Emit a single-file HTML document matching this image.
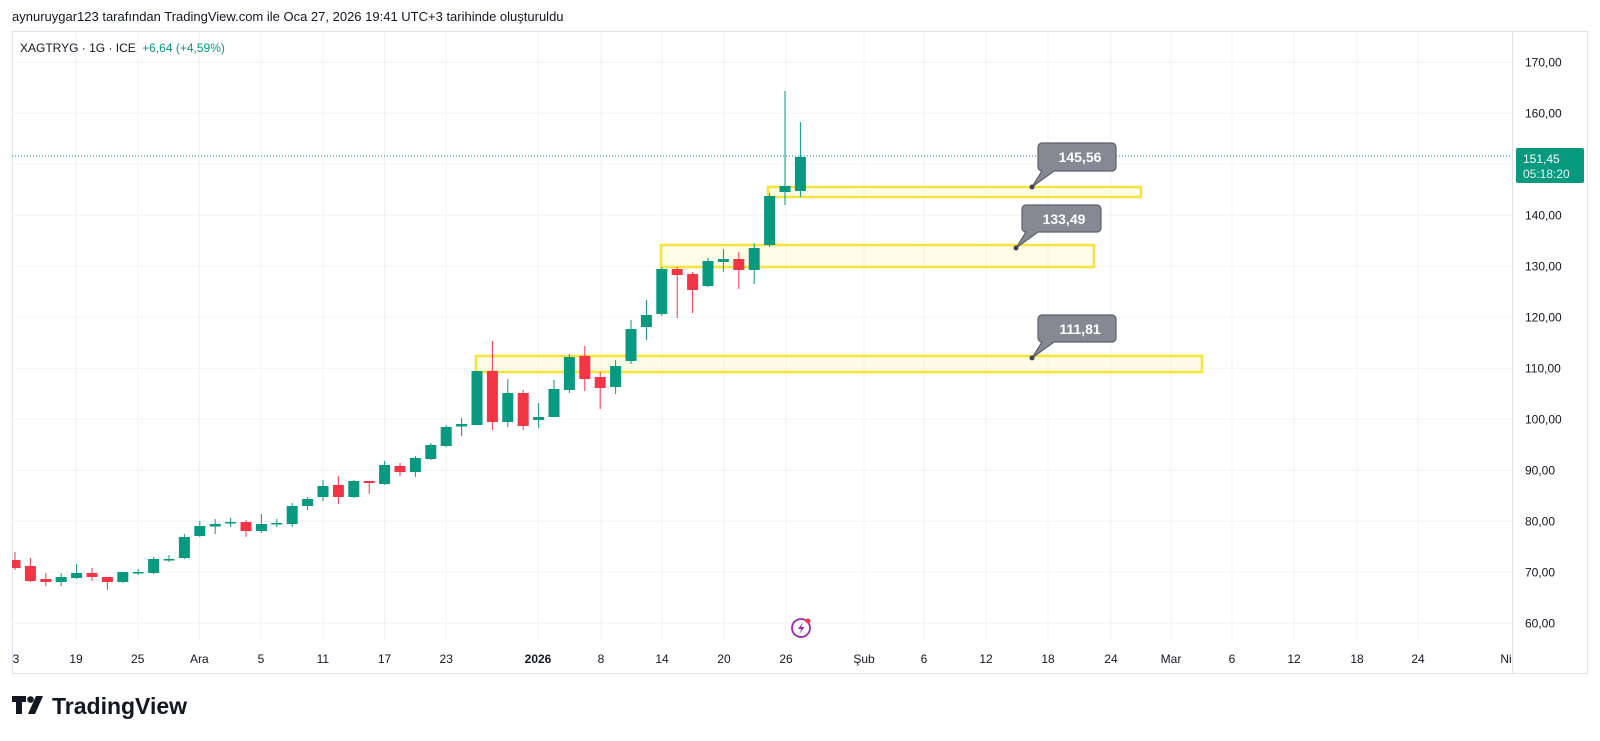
<!DOCTYPE html>
<html><head><meta charset="utf-8"><style>
body{margin:0;background:#fff;width:1600px;height:741px;overflow:hidden;font-family:"Liberation Sans",sans-serif}
svg{position:absolute;left:0;top:0}
</style></head><body>
<svg width="1600" height="741" viewBox="0 0 1600 741" font-family="Liberation Sans, sans-serif">
<text x="12" y="21" font-size="13" fill="#131722">aynuruygar123 tarafından TradingView.com ile Oca 27, 2026 19:41 UTC+3 tarihinde oluşturuldu</text>
<rect x="12.5" y="31.5" width="1575" height="642" fill="#fff" stroke="#e0e3eb"/>
<line x1="1512.5" y1="31" x2="1512.5" y2="674" stroke="#e0e3eb"/>
<g stroke="#f2f3f6" stroke-width="1">
<line x1="12" x2="1512" y1="62.3" y2="62.3"/><line x1="12" x2="1512" y1="113.3" y2="113.3"/><line x1="12" x2="1512" y1="164.3" y2="164.3"/><line x1="12" x2="1512" y1="215.3" y2="215.3"/><line x1="12" x2="1512" y1="266.3" y2="266.3"/><line x1="12" x2="1512" y1="317.3" y2="317.3"/><line x1="12" x2="1512" y1="368.3" y2="368.3"/><line x1="12" x2="1512" y1="419.3" y2="419.3"/><line x1="12" x2="1512" y1="470.3" y2="470.3"/><line x1="12" x2="1512" y1="521.3" y2="521.3"/><line x1="12" x2="1512" y1="572.3" y2="572.3"/><line x1="12" x2="1512" y1="623.3" y2="623.3"/>
<line y1="32" y2="640" x1="76" x2="76"/><line y1="32" y2="640" x1="137.7" x2="137.7"/><line y1="32" y2="640" x1="199.4" x2="199.4"/><line y1="32" y2="640" x1="261" x2="261"/><line y1="32" y2="640" x1="322.8" x2="322.8"/><line y1="32" y2="640" x1="384.5" x2="384.5"/><line y1="32" y2="640" x1="446.2" x2="446.2"/><line y1="32" y2="640" x1="538" x2="538"/><line y1="32" y2="640" x1="601" x2="601"/><line y1="32" y2="640" x1="662" x2="662"/><line y1="32" y2="640" x1="724" x2="724"/><line y1="32" y2="640" x1="786" x2="786"/><line y1="32" y2="640" x1="864" x2="864"/><line y1="32" y2="640" x1="924" x2="924"/><line y1="32" y2="640" x1="986" x2="986"/><line y1="32" y2="640" x1="1048" x2="1048"/><line y1="32" y2="640" x1="1111" x2="1111"/><line y1="32" y2="640" x1="1171" x2="1171"/><line y1="32" y2="640" x1="1232" x2="1232"/><line y1="32" y2="640" x1="1294" x2="1294"/><line y1="32" y2="640" x1="1357" x2="1357"/><line y1="32" y2="640" x1="1418" x2="1418"/>
</g>
<g font-size="12" fill="#131722">
<text x="1525" y="66.5">170,00</text><text x="1525" y="117.5">160,00</text><text x="1525" y="219.5">140,00</text><text x="1525" y="270.5">130,00</text><text x="1525" y="321.5">120,00</text><text x="1525" y="372.5">110,00</text><text x="1525" y="423.5">100,00</text><text x="1525" y="474.5">90,00</text><text x="1525" y="525.5">80,00</text><text x="1525" y="576.5">70,00</text><text x="1525" y="627.5">60,00</text>
</g>
<g font-size="12" fill="#131722" text-anchor="middle">
<text x="16" y="663">3</text><text x="76" y="663">19</text><text x="137.7" y="663">25</text><text x="199.4" y="663">Ara</text><text x="261" y="663">5</text><text x="322.8" y="663">11</text><text x="384.5" y="663">17</text><text x="446.2" y="663">23</text><text x="538" y="663" font-weight="bold">2026</text><text x="601" y="663">8</text><text x="662" y="663">14</text><text x="724" y="663">20</text><text x="786" y="663">26</text><text x="864" y="663">Şub</text><text x="924" y="663">6</text><text x="986" y="663">12</text><text x="1048" y="663">18</text><text x="1111" y="663">24</text><text x="1171" y="663">Mar</text><text x="1232" y="663">6</text><text x="1294" y="663">12</text><text x="1357" y="663">18</text><text x="1418" y="663">24</text><text x="1506" y="663">Ni</text>
</g>
<g fill="rgba(255,235,59,0.12)" stroke="#f7e43a" stroke-width="2.5">
<rect x="476" y="356" width="726" height="16"/>
<rect x="661" y="245" width="433" height="22"/>
<rect x="768" y="187" width="373" height="10"/>
</g>
<line x1="12" x2="1512" y1="156" y2="156" stroke="#089981" stroke-width="1" stroke-dasharray="1,2"/>
<svg x="12" y="31" width="1500" height="610" viewBox="12 31 1500 610" overflow="hidden">
<g fill="#f23645" stroke="#f23645" stroke-width="1">
<line x1="15" x2="15" y1="552" y2="570"/><rect x="9.5" y="560" width="11" height="8" stroke="none"/>
<line x1="30.4" x2="30.4" y1="558" y2="582"/><rect x="24.9" y="566" width="11" height="15" stroke="none"/>
<line x1="45.8" x2="45.8" y1="573" y2="586"/><rect x="40.3" y="579" width="11" height="3" stroke="none"/>
<line x1="92" x2="92" y1="568" y2="581"/><rect x="86.5" y="573" width="11" height="4" stroke="none"/>
<line x1="107.4" x2="107.4" y1="577" y2="590"/><rect x="101.9" y="577" width="11" height="5" stroke="none"/>
<line x1="246" x2="246" y1="520" y2="537"/><rect x="240.5" y="522" width="11" height="9" stroke="none"/>
<line x1="338.4" x2="338.4" y1="476" y2="504"/><rect x="332.9" y="485" width="11" height="12" stroke="none"/>
<line x1="369.2" x2="369.2" y1="481" y2="494"/><rect x="363.7" y="481" width="11" height="2" stroke="none"/>
<line x1="400" x2="400" y1="463" y2="476"/><rect x="394.5" y="466" width="11" height="6" stroke="none"/>
<line x1="492.4" x2="492.4" y1="341" y2="430"/><rect x="486.9" y="371" width="11" height="51" stroke="none"/>
<line x1="523.2" x2="523.2" y1="390" y2="430"/><rect x="517.7" y="393" width="11" height="33" stroke="none"/>
<line x1="584.8" x2="584.8" y1="346" y2="391"/><rect x="579.3" y="356" width="11" height="23" stroke="none"/>
<line x1="600.2" x2="600.2" y1="372" y2="409"/><rect x="594.7" y="377" width="11" height="11" stroke="none"/>
<line x1="677.2" x2="677.2" y1="267" y2="318"/><rect x="671.7" y="269" width="11" height="6" stroke="none"/>
<line x1="692.6" x2="692.6" y1="272" y2="313"/><rect x="687.1" y="274" width="11" height="16" stroke="none"/>
<line x1="738.8" x2="738.8" y1="252" y2="289"/><rect x="733.3" y="259" width="11" height="11" stroke="none"/>
</g>
<g fill="#089981" stroke="#089981" stroke-width="1">
<line x1="61.2" x2="61.2" y1="573" y2="586"/><rect x="55.7" y="577" width="11" height="5" stroke="none"/>
<line x1="76.6" x2="76.6" y1="564" y2="579"/><rect x="71.1" y="573" width="11" height="5" stroke="none"/>
<line x1="122.8" x2="122.8" y1="572" y2="583"/><rect x="117.3" y="572" width="11" height="10" stroke="none"/>
<line x1="138.2" x2="138.2" y1="569" y2="575"/><rect x="132.7" y="572" width="11" height="1.5" stroke="none"/>
<line x1="153.6" x2="153.6" y1="557" y2="574"/><rect x="148.1" y="559" width="11" height="14" stroke="none"/>
<line x1="169" x2="169" y1="555" y2="562"/><rect x="163.5" y="559" width="11" height="1.5" stroke="none"/>
<line x1="184.4" x2="184.4" y1="534" y2="559"/><rect x="178.9" y="537" width="11" height="21" stroke="none"/>
<line x1="199.8" x2="199.8" y1="521" y2="537"/><rect x="194.3" y="526" width="11" height="10" stroke="none"/>
<line x1="215.2" x2="215.2" y1="519" y2="534"/><rect x="209.7" y="524" width="11" height="2.5" stroke="none"/>
<line x1="230.6" x2="230.6" y1="518" y2="527"/><rect x="225.1" y="522" width="11" height="1.5" stroke="none"/>
<line x1="261.4" x2="261.4" y1="514" y2="533"/><rect x="255.9" y="524" width="11" height="7" stroke="none"/>
<line x1="276.8" x2="276.8" y1="519" y2="527"/><rect x="271.3" y="523" width="11" height="1.5" stroke="none"/>
<line x1="292.2" x2="292.2" y1="503" y2="527"/><rect x="286.7" y="506" width="11" height="18" stroke="none"/>
<line x1="307.6" x2="307.6" y1="497" y2="510"/><rect x="302.1" y="499" width="11" height="7" stroke="none"/>
<line x1="323" x2="323" y1="480" y2="501"/><rect x="317.5" y="486" width="11" height="11" stroke="none"/>
<line x1="353.8" x2="353.8" y1="480" y2="498"/><rect x="348.3" y="481" width="11" height="16" stroke="none"/>
<line x1="384.6" x2="384.6" y1="461" y2="485"/><rect x="379.1" y="465" width="11" height="19" stroke="none"/>
<line x1="415.4" x2="415.4" y1="456" y2="477"/><rect x="409.9" y="458" width="11" height="14" stroke="none"/>
<line x1="430.8" x2="430.8" y1="443" y2="460"/><rect x="425.3" y="445" width="11" height="14" stroke="none"/>
<line x1="446.2" x2="446.2" y1="425" y2="447"/><rect x="440.7" y="427" width="11" height="19" stroke="none"/>
<line x1="461.6" x2="461.6" y1="418" y2="436"/><rect x="456.1" y="424" width="11" height="2.5" stroke="none"/>
<line x1="477" x2="477" y1="371" y2="425"/><rect x="471.5" y="371" width="11" height="54" stroke="none"/>
<line x1="507.8" x2="507.8" y1="379" y2="427"/><rect x="502.3" y="393" width="11" height="29" stroke="none"/>
<line x1="538.6" x2="538.6" y1="403" y2="428"/><rect x="533.1" y="417" width="11" height="3" stroke="none"/>
<line x1="554" x2="554" y1="380" y2="417"/><rect x="548.5" y="389" width="11" height="28" stroke="none"/>
<line x1="569.4" x2="569.4" y1="354" y2="393"/><rect x="563.9" y="357" width="11" height="33" stroke="none"/>
<line x1="615.6" x2="615.6" y1="360" y2="394"/><rect x="610.1" y="366" width="11" height="21" stroke="none"/>
<line x1="631" x2="631" y1="320" y2="364"/><rect x="625.5" y="329" width="11" height="32" stroke="none"/>
<line x1="646.4" x2="646.4" y1="300" y2="340"/><rect x="640.9" y="315" width="11" height="12" stroke="none"/>
<line x1="661.8" x2="661.8" y1="267" y2="316"/><rect x="656.3" y="269" width="11" height="45" stroke="none"/>
<line x1="708" x2="708" y1="258" y2="287"/><rect x="702.5" y="261" width="11" height="25" stroke="none"/>
<line x1="723.4" x2="723.4" y1="249" y2="272"/><rect x="717.9" y="259" width="11" height="3" stroke="none"/>
<line x1="754.2" x2="754.2" y1="243" y2="284"/><rect x="748.7" y="248" width="11" height="22" stroke="none"/>
<line x1="769.6" x2="769.6" y1="193" y2="247"/><rect x="764.1" y="196" width="11" height="49" stroke="none"/>
<line x1="785" x2="785" y1="91" y2="205"/><rect x="779.5" y="186" width="11" height="6" stroke="none"/>
<line x1="800.4" x2="800.4" y1="122" y2="197"/><rect x="794.9" y="157" width="11" height="34" stroke="none"/>
</g>
</svg>
<g fill="#868993" stroke="#5d606b" stroke-width="1.2">
<path d="M1046 143h66a4 4 0 0 1 4 4v20a4 4 0 0 1-4 4h-58l-22 16 10-16h0a4 4 0 0 1-4-4v-20a4 4 0 0 1 4-4z"/>
<path d="M1030 205h67a4 4 0 0 1 4 4v19a4 4 0 0 1-4 4h-59l-22 16 10-16a4 4 0 0 1-4-4v-19a4 4 0 0 1 4-4z"/>
<path d="M1046 315h66a4 4 0 0 1 4 4v19a4 4 0 0 1-4 4h-58l-22 16 10-16a4 4 0 0 1-4-4v-19a4 4 0 0 1 4-4z"/>
</g>
<g fill="#434651"><circle cx="1032" cy="187" r="2.5"/><circle cx="1016" cy="248" r="2.5"/><circle cx="1032" cy="358" r="2.5"/></g>
<g font-size="14" font-weight="bold" fill="#fff" text-anchor="middle">
<text x="1080" y="162">145,56</text><text x="1064" y="224">133,49</text><text x="1080" y="334">111,81</text>
</g>
<rect x="1516" y="148" width="68" height="35" rx="2" fill="#089981"/>
<text x="1523" y="163" font-size="12" fill="#fff">151,45</text>
<text x="1523" y="178" font-size="12" fill="#e0f5f0">05:18:20</text>
<text x="20" y="52" font-size="12" fill="#131722">XAGTRYG · 1G · ICE <tspan fill="#089981" dx="3">+6,64 (+4,59%)</tspan></text>
<circle cx="801" cy="628" r="9" fill="#fff" stroke="#9c27b0" stroke-width="1.8"/>
<path d="M803 622l-5 7h3.5l-2 5 5-7h-3.5z" fill="#9c27b0"/>
<circle cx="808" cy="621" r="2.5" fill="#f23645"/>
<g transform="translate(12,696)">
<path d="M0 0h14v6h-4v12h-6v-12h-4z" fill="#131722"/>
<circle cx="18.5" cy="3.5" r="3.3" fill="#131722"/>
<path d="M24 0h7l-8 18h-7z" fill="#131722"/>
</g>
<text x="52" y="714" font-size="23" font-weight="bold" fill="#131722">TradingView</text>
</svg>
</body></html>
